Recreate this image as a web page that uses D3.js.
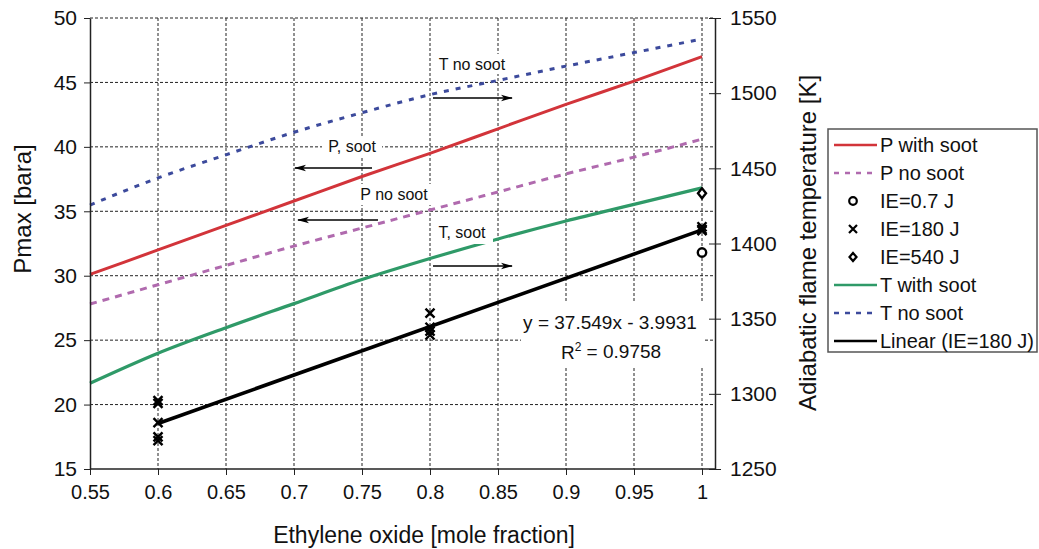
<!DOCTYPE html>
<html>
<head>
<meta charset="utf-8">
<script src="https://cdn.jsdelivr.net/npm/d3@7"></script>
<style>
  html, body { margin: 0; padding: 0; background: #fff; }
  svg { display: block; font-family: "Liberation Sans", Arial, sans-serif; }
</style>
</head>
<body>
<svg id="chart" width="1039" height="549"></svg>
<script>
// Ethylene oxide mole fraction grid
const moleFraction = [0.55, 0.6, 0.65, 0.7, 0.75, 0.8, 0.85, 0.9, 0.95, 1.0];
const xTickLabels = ["0.55", "0.6", "0.65", "0.7", "0.75", "0.8", "0.85", "0.9", "0.95", "1"];
const pTicks = [15, 20, 25, 30, 35, 40, 45, 50];
const tTicks = [1250, 1300, 1350, 1400, 1450, 1500, 1550];

// Maximum pressure [bara]
const pWithSoot = [30.1, 32.0, 33.9, 35.8, 37.7, 39.5, 41.4, 43.3, 45.1, 47.0];
const pNoSoot   = [27.8, 29.3, 30.8, 32.3, 33.7, 35.1, 36.5, 37.9, 39.2, 40.6];
// Adiabatic flame temperature [K]
const tWithSoot = [1307, 1327, 1344, 1360, 1376, 1390, 1403, 1415, 1426, 1437];
const tNoSoot   = [1425.6, 1443.6, 1459, 1474, 1487, 1499, 1508.5, 1518, 1527, 1536];

// Measured Pmax by ignition energy: [mole fraction, Pmax]
const ie07  = [[1.0, 31.8]];
const ie180 = [[0.6, 20.3], [0.6, 20.1], [0.6, 18.6], [0.6, 17.5], [0.6, 17.2],
               [0.8, 27.1], [0.8, 26.0], [0.8, 25.7], [0.8, 25.4],
               [1.0, 33.8], [1.0, 33.6], [1.0, 33.5]];
const ie540 = [[1.0, 36.4]];

// Linear fit of the IE=180 J points
const fitSlope = 37.549;
const fitIntercept = -3.9931;
const fitR2 = 0.9758;
const fitRange = [0.6, 1.0];

const colors = {
  pSoot: "#d2343a",
  pNoSoot: "#b06aae",
  tSoot: "#2f9a68",
  tNoSoot: "#3c4a9c",
  fit: "#000"
};

const svg = d3.select("#chart");
const plotLeft = 90, plotRight = 702, frameRight = 715, plotTop = 18, plotBottom = 469;

const x = d3.scaleLinear().domain([0.55, 1.0]).range([plotLeft, plotRight]);
const yP = d3.scaleLinear().domain([15, 50]).range([plotBottom, plotTop]);
const yT = d3.scaleLinear().domain([1250, 1550]).range([plotBottom, plotTop]);

// arrowhead
svg.append("defs").append("marker")
  .attr("id", "arrow").attr("viewBox", "0 0 12 8")
  .attr("refX", 11).attr("refY", 4)
  .attr("markerWidth", 12).attr("markerHeight", 8)
  .attr("markerUnits", "userSpaceOnUse")
  .attr("orient", "auto")
  .append("path").attr("d", "M0,0.8 L12,4 L0,7.2 L3,4 Z").attr("fill", "#000");

// grid
const grid = svg.append("g").attr("stroke", "#222").attr("stroke-width", 1)
  .attr("stroke-dasharray", "3,2").attr("fill", "none");
grid.selectAll("line.h").data(pTicks.filter(d => d > 15)).join("line")
  .attr("x1", plotLeft).attr("x2", frameRight)
  .attr("y1", d => yP(d)).attr("y2", d => yP(d));
grid.selectAll("line.v").data(moleFraction.slice(1)).join("line")
  .attr("x1", d => x(d)).attr("x2", d => x(d))
  .attr("y1", plotTop).attr("y2", plotBottom);

// curves
const pLine = d3.line().x((d, i) => x(moleFraction[i])).y(d => yP(d)).curve(d3.curveMonotoneX);
const tLine = d3.line().x((d, i) => x(moleFraction[i])).y(d => yT(d)).curve(d3.curveMonotoneX);

svg.append("path").datum(tNoSoot).attr("d", tLine)
  .attr("fill", "none").attr("stroke", colors.tNoSoot).attr("stroke-width", 3)
  .attr("stroke-dasharray", "5,7");
svg.append("path").datum(pNoSoot).attr("d", pLine)
  .attr("fill", "none").attr("stroke", colors.pNoSoot).attr("stroke-width", 3)
  .attr("stroke-dasharray", "7,6");
svg.append("path").datum(pWithSoot).attr("d", pLine)
  .attr("fill", "none").attr("stroke", colors.pSoot).attr("stroke-width", 3);
svg.append("path").datum(tWithSoot).attr("d", tLine)
  .attr("fill", "none").attr("stroke", colors.tSoot).attr("stroke-width", 3.2);

// linear fit
svg.append("line")
  .attr("x1", x(fitRange[0])).attr("y1", yP(fitSlope * fitRange[0] + fitIntercept))
  .attr("x2", x(fitRange[1])).attr("y2", yP(fitSlope * fitRange[1] + fitIntercept))
  .attr("stroke", colors.fit).attr("stroke-width", 3.6);

// series annotations with arrows
const notes = [
  { text: "T no soot", tx: 472, ty: 64, box: [435, 54, 73, 20], arrow: [433, 98, 512, 98] },
  { text: "P, soot",   tx: 352, ty: 146, box: [322, 136, 60, 21], arrow: [372, 168, 295, 168] },
  { text: "P no soot", tx: 394, ty: 194, box: [357, 184, 74, 21], arrow: [378, 220, 298, 220] },
  { text: "T, soot",   tx: 462, ty: 232, box: [433, 220, 60, 24], arrow: [433, 266, 512, 266] }
];
const noteG = svg.append("g");
notes.forEach(n => {
  noteG.append("rect").attr("x", n.box[0]).attr("y", n.box[1])
    .attr("width", n.box[2]).attr("height", n.box[3]).attr("fill", "#fff");
  noteG.append("text").attr("x", n.tx).attr("y", n.ty).attr("dy", "0.35em")
    .attr("text-anchor", "middle").attr("font-size", 16).attr("fill", "#111").text(n.text);
  noteG.append("line").attr("x1", n.arrow[0]).attr("y1", n.arrow[1])
    .attr("x2", n.arrow[2]).attr("y2", n.arrow[3])
    .attr("stroke", "#000").attr("stroke-width", 1.6).attr("marker-end", "url(#arrow)");
});

// fit equation
svg.append("rect").attr("x", 521).attr("y", 303).attr("width", 184).attr("height", 65).attr("fill", "#fff");
svg.append("text").attr("x", 610).attr("y", 322).attr("dy", "0.35em")
  .attr("text-anchor", "middle").attr("font-size", 19).attr("fill", "#111")
  .text(`y = ${fitSlope}x - ${Math.abs(fitIntercept)}`);
const r2 = svg.append("text").attr("x", 611).attr("y", 352).attr("dy", "0.35em")
  .attr("text-anchor", "middle").attr("font-size", 19).attr("fill", "#111");
r2.append("tspan").text("R");
r2.append("tspan").attr("font-size", 12).attr("dy", "-0.6em").text("2");
r2.append("tspan").attr("dy", "0.35em").text(` = ${fitR2}`);

// markers
const markers = svg.append("g").attr("fill", "none").attr("stroke", "#000");
const xPath = s => `M${-s},${-s}L${s},${s}M${-s},${s}L${s},${-s}`;
markers.selectAll("path.ie180").data(ie180).join("path")
  .attr("transform", d => `translate(${x(d[0])},${yP(d[1])})`)
  .attr("d", xPath(4.5)).attr("stroke-width", 2.4);
markers.selectAll("circle.ie07").data(ie07).join("circle")
  .attr("cx", d => x(d[0])).attr("cy", d => yP(d[1])).attr("r", 4.2)
  .attr("fill", "#fff").attr("stroke-width", 2.4);
markers.selectAll("path.ie540").data(ie540).join("path")
  .attr("transform", d => `translate(${x(d[0])},${yP(d[1])})`)
  .attr("d", "M0,-5L4,0L0,5L-4,0Z").attr("fill", "#fff").attr("stroke-width", 2.4);

// axes
const axisColor = "#222";
const xAxis = svg.append("g").attr("transform", `translate(0,${plotBottom})`)
  .call(d3.axisBottom(x).tickValues(moleFraction).tickFormat((d, i) => xTickLabels[i])
    .tickSizeInner(6).tickSizeOuter(0).tickPadding(10));
xAxis.select(".domain").remove();
xAxis.append("line").attr("x1", plotLeft).attr("x2", frameRight).attr("stroke", axisColor).attr("stroke-width", 1.5);
xAxis.selectAll(".tick line").attr("stroke", axisColor);
xAxis.selectAll(".tick text").attr("font-size", 20).attr("fill", "#111").attr("font-family", null);

const yAxisL = svg.append("g").attr("transform", `translate(${plotLeft},0)`)
  .call(d3.axisLeft(yP).tickValues(pTicks).tickFormat(d3.format("d"))
    .tickSizeInner(6).tickSizeOuter(0).tickPadding(7));
yAxisL.select(".domain").attr("stroke", axisColor).attr("stroke-width", 1.5);
yAxisL.selectAll(".tick line").attr("stroke", axisColor);
yAxisL.selectAll(".tick text").attr("font-size", 21).attr("fill", "#111").attr("font-family", null);

const yAxisR = svg.append("g").attr("transform", `translate(${frameRight},0)`)
  .call(d3.axisRight(yT).tickValues(tTicks).tickFormat(d3.format("d"))
    .tickSizeInner(6).tickSizeOuter(0).tickPadding(9));
yAxisR.select(".domain").attr("stroke", axisColor).attr("stroke-width", 1.5);
yAxisR.selectAll(".tick line").attr("x1", -6).attr("stroke", axisColor);
yAxisR.selectAll(".tick text").attr("font-size", 21).attr("fill", "#111").attr("font-family", null);

// axis titles
svg.append("text").attr("x", 424).attr("y", 535).attr("dy", "0.35em")
  .attr("text-anchor", "middle").attr("font-size", 23).attr("fill", "#111")
  .text("Ethylene oxide [mole fraction]");
svg.append("text").attr("transform", "translate(31,209) rotate(-90)")
  .attr("text-anchor", "middle").attr("font-size", 24).attr("fill", "#111")
  .text("Pmax [bara]");
svg.append("text").attr("transform", "translate(816,243) rotate(-90)")
  .attr("text-anchor", "middle").attr("font-size", 24).attr("fill", "#111")
  .text("Adiabatic flame temperature [K]");

// legend
const legendItems = [
  { label: "P with soot", type: "line", color: colors.pSoot },
  { label: "P no soot", type: "dash", color: colors.pNoSoot },
  { label: "IE=0.7 J", type: "circle" },
  { label: "IE=180 J", type: "cross" },
  { label: "IE=540 J", type: "diamond" },
  { label: "T with soot", type: "line", color: colors.tSoot },
  { label: "T no soot", type: "dash", color: colors.tNoSoot },
  { label: "Linear (IE=180 J)", type: "line", color: colors.fit }
];
const lg = svg.append("g");
lg.append("rect").attr("x", 828).attr("y", 129).attr("width", 209).attr("height", 223)
  .attr("fill", "#fff").attr("stroke", "#555").attr("stroke-width", 1.5);
legendItems.forEach((it, i) => {
  const cy = 145 + i * 28;
  const g = lg.append("g").attr("transform", `translate(0,${cy})`);
  if (it.type === "line" || it.type === "dash") {
    g.append("line").attr("x1", 834).attr("x2", 877).attr("y1", 0).attr("y2", 0)
      .attr("stroke", it.color).attr("stroke-width", 2.6)
      .attr("stroke-dasharray", it.type === "dash" ? "5,6" : null);
  } else if (it.type === "circle") {
    g.append("circle").attr("cx", 853).attr("cy", 0).attr("r", 3.8)
      .attr("fill", "#fff").attr("stroke", "#000").attr("stroke-width", 2.2);
  } else if (it.type === "cross") {
    g.append("path").attr("transform", "translate(853,0)").attr("d", xPath(4))
      .attr("stroke", "#000").attr("stroke-width", 2.2);
  } else {
    g.append("path").attr("transform", "translate(853,0)").attr("d", "M0,-4L3.5,0L0,4L-3.5,0Z")
      .attr("fill", "#fff").attr("stroke", "#000").attr("stroke-width", 2.2);
  }
  g.append("text").attr("x", 880).attr("y", 0).attr("dy", "0.35em")
    .attr("font-size", 20).attr("fill", "#111").text(it.label);
});
</script>
</body>
</html>
